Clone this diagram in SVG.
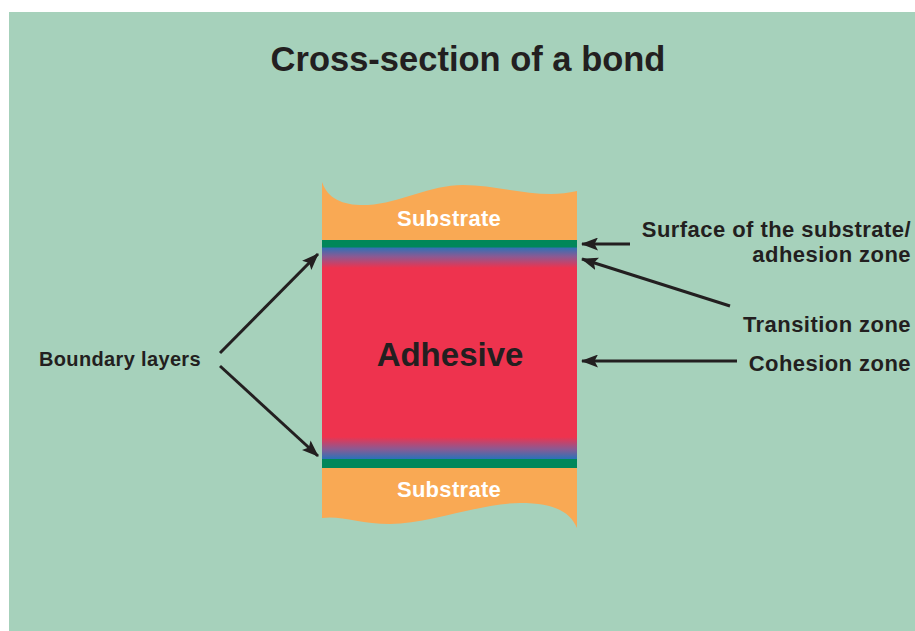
<svg xmlns="http://www.w3.org/2000/svg" width="915" height="631" viewBox="0 0 915 631">
<defs>
<style>
text{font-family:"Liberation Sans",Arial,sans-serif;font-weight:bold;fill:#231f20}
.lbl{font-size:22px;text-anchor:end;letter-spacing:0.45px}
.sub{font-size:22px;fill:#ffffff;text-anchor:middle;letter-spacing:0.3px}
.conn{stroke:#231f20;stroke-width:3;fill:none;marker-end:url(#ah)}
</style>
<marker id="ah" viewBox="0 0 17 13" refX="16" refY="6.5" markerWidth="17" markerHeight="13" markerUnits="userSpaceOnUse" orient="auto">
<path d="M0,0 L17,6.5 L0,13 L3.5,6.5 Z" fill="#231f20"/>
</marker>
<linearGradient id="gTop" gradientUnits="userSpaceOnUse" x1="0" y1="247" x2="0" y2="268">
<stop offset="0" stop-color="#2a72b9"/>
<stop offset="0.45" stop-color="#8a5a93"/>
<stop offset="1" stop-color="#ee334e"/>
</linearGradient>
<linearGradient id="gBot" gradientUnits="userSpaceOnUse" x1="0" y1="437" x2="0" y2="459">
<stop offset="0" stop-color="#ee334e"/>
<stop offset="0.55" stop-color="#8a5a93"/>
<stop offset="1" stop-color="#2a72b9"/>
</linearGradient>
</defs>
<rect x="9" y="12" width="906" height="619" fill="#a6d1bb"/>
<text x="468" y="71" style="font-size:34.5px;text-anchor:middle">Cross-section of a bond</text>
<g id="substrate-top">
<path d="M322,182 C328,200 345,206 368,205 C400,203 430,185 463,185 C500,185 540,200 577,191 L577,241 L322,241 Z" fill="#f9a954"/>
<text class="sub" x="449" y="226">Substrate</text>
</g>
<g id="adhesive">
<rect x="322" y="240" width="255" height="228" fill="#ee334e"/>
<rect x="322" y="247" width="255" height="21" fill="url(#gTop)"/>
<rect x="322" y="437" width="255" height="22" fill="url(#gBot)"/>
<rect x="322" y="240" width="255" height="7.5" fill="#00875a"/>
<rect x="322" y="459" width="255" height="9" fill="#00875a"/>
<text x="450" y="366" style="font-size:33px;text-anchor:middle">Adhesive</text>
</g>
<g id="substrate-bottom">
<path d="M322,468 L577,468 L577,528 C570,512 555,503 520,503 C480,503 430,524 390,524 C360,524 340,515 322,518 Z" fill="#f9a954"/>
<text class="sub" x="449" y="497">Substrate</text>
</g>
<g id="label-surface">
<text class="lbl" x="911" y="237">Surface of the substrate/</text>
<text class="lbl" x="911" y="262">adhesion zone</text>
</g>
<g id="label-transition"><text class="lbl" x="911" y="332">Transition zone</text></g>
<g id="label-cohesion"><text class="lbl" x="911" y="371">Cohesion zone</text></g>
<g id="label-boundary"><text x="39" y="366" style="font-size:20px;letter-spacing:0.35px">Boundary layers</text></g>
<g id="connectors">
<line class="conn" x1="630" y1="244" x2="582" y2="244"/>
<line class="conn" x1="730" y1="306" x2="582" y2="259"/>
<line class="conn" x1="737" y1="361" x2="582" y2="361"/>
<line class="conn" x1="220" y1="353" x2="318" y2="254"/>
<line class="conn" x1="220" y1="366" x2="318" y2="456"/>
</g>
</svg>
